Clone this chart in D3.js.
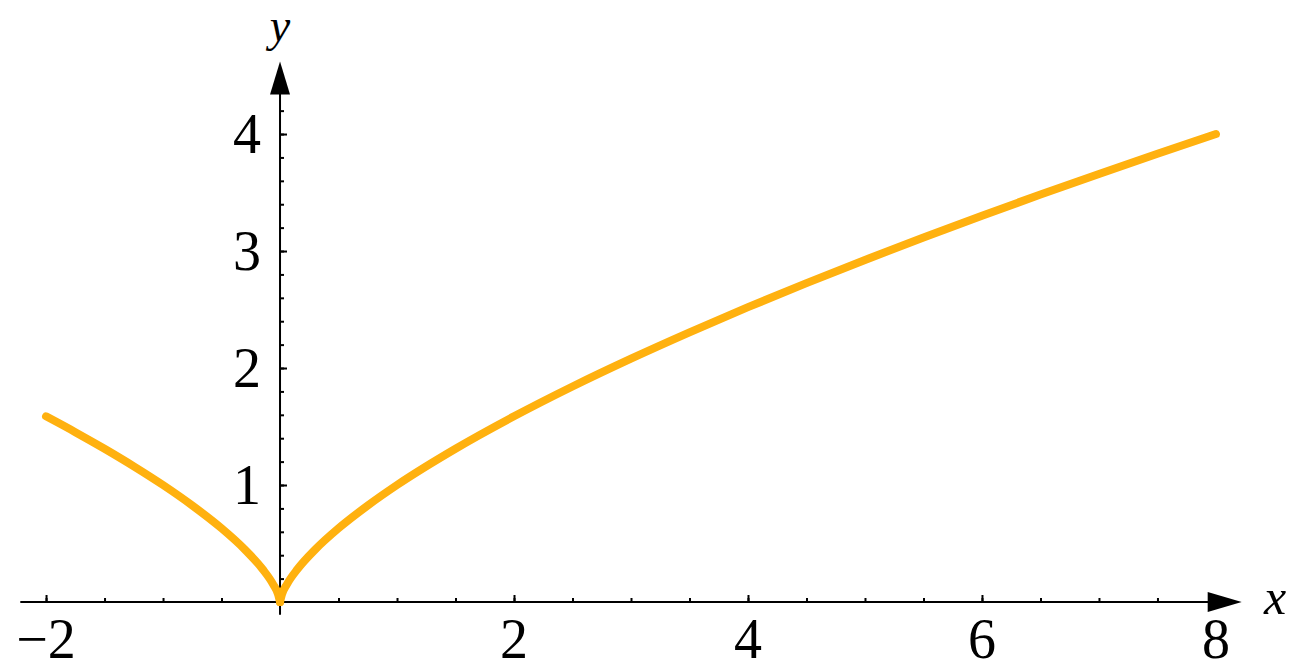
<!DOCTYPE html>
<meta charset="utf-8">
<script src="https://d3js.org/d3.v7.min.js"></script>
<style>
    body { margin: 0; background: #fff; }
    svg text { font-family: 'Liberation Serif', 'DejaVu Serif', serif; fill: #000; }
</style>
<div id="chart"></div>
<script>
    // curve values
    var xValues = [-2, -1.75, -1.5, -1.25, -1, -0.75, -0.5, -0.3, -0.15, -0.06, -0.015, 0,
                   0.015, 0.06, 0.15, 0.3, 0.5, 0.75, 1, 1.5, 2, 2.5, 3, 3.5, 4, 4.5, 5, 5.5, 6, 6.5, 7, 7.5, 8];
    var yValues = [1.587, 1.452, 1.310, 1.160, 1.000, 0.825, 0.630, 0.448, 0.282, 0.153, 0.061, 0,
                   0.061, 0.153, 0.282, 0.448, 0.630, 0.825, 1.000, 1.310, 1.587, 1.842, 2.080, 2.305, 2.520, 2.726, 2.924, 3.116, 3.302, 3.483, 3.659, 3.831, 4.000];

    // tick labels
    var xTickLabels = [-2, 2, 4, 6, 8];
    var yTickLabels = [1, 2, 3, 4];
    var xMinor = d3.range(-2, 8.01, 0.5);
    var yMinor = d3.range(0.2, 4.21, 0.2).map(function(v) { return +v.toFixed(1); });

    var width = 1299, height = 672;

    var svg = d3.select("#chart").append("svg")
        .attr("width", width)
        .attr("height", height);

    var x = d3.scaleLinear().domain([-2.22, 8.22]).range([20.3, 1241.7]);
    var y = d3.scaleLinear().domain([0, 4.62]).range([602, 61.5]);

    var axisColor = "#000";

    // x axis line + arrow
    svg.append("line")
        .attr("x1", x(-2.22)).attr("x2", x(8.22) - 20)
        .attr("y1", y(0)).attr("y2", y(0))
        .attr("stroke", axisColor).attr("stroke-width", 2);
    svg.append("path")
        .attr("d", "M" + x(8.22) + "," + y(0) + "l-34,-10l0,20z")
        .attr("fill", axisColor);

    // y axis line + arrow
    svg.append("line")
        .attr("x1", x(0)).attr("x2", x(0))
        .attr("y1", y(-0.11)).attr("y2", y(4.62) + 20)
        .attr("stroke", axisColor).attr("stroke-width", 2);
    svg.append("path")
        .attr("d", "M" + x(0) + "," + y(4.62) + "l-10,33l20,0z")
        .attr("fill", axisColor);

    // x ticks (drawn upward)
    svg.append("g")
        .attr("transform", "translate(0," + y(0) + ")")
        .call(d3.axisBottom(x).tickValues(xMinor.filter(function(v) { return v !== 0; }))
            .tickSize(-4).tickFormat(""));
    svg.append("g")
        .attr("transform", "translate(0," + y(0) + ")")
        .call(d3.axisBottom(x).tickValues(xTickLabels).tickSize(-7).tickFormat(""));

    // y ticks (drawn to the right)
    svg.append("g")
        .attr("transform", "translate(" + x(0) + ",0)")
        .call(d3.axisLeft(y).tickValues(yMinor).tickSize(-4).tickFormat(""));
    svg.append("g")
        .attr("transform", "translate(" + x(0) + ",0)")
        .call(d3.axisLeft(y).tickValues(yTickLabels).tickSize(-7).tickFormat(""));

    svg.selectAll(".domain").remove();
    svg.selectAll(".tick line").attr("stroke", axisColor).attr("stroke-width", 2);

    // tick labels
    svg.selectAll(".xlabel")
        .data(xTickLabels)
        .enter().append("text")
        .attr("class", "xlabel")
        .attr("x", function(d) { return x(d); })
        .attr("y", 658)
        .attr("text-anchor", "middle")
        .style("font-size", "56px")
        .text(function(d) { return d < 0 ? "\u2212" + Math.abs(d) : d; });

    svg.selectAll(".ylabel")
        .data(yTickLabels)
        .enter().append("text")
        .attr("class", "ylabel")
        .attr("x", 261)
        .attr("y", function(d) { return y(d); })
        .attr("dy", "0.34em")
        .attr("text-anchor", "end")
        .style("font-size", "56px")
        .text(function(d) { return d; });

    // axis names
    svg.append("text")
        .attr("x", 1275).attr("y", 614)
        .attr("text-anchor", "middle")
        .style("font-size", "50px").style("font-style", "italic")
        .text("x");
    svg.append("text")
        .attr("x", 280).attr("y", 41)
        .attr("text-anchor", "middle")
        .style("font-size", "46px").style("font-style", "italic")
        .text("y");

    // curve, split at the cusp
    var pts = xValues.map(function(v, i) { return [v, yValues[i]]; });
    var left = pts.filter(function(p) { return p[0] <= 0; });
    var right = pts.filter(function(p) { return p[0] >= 0; });

    var line = d3.line()
        .x(function(d) { return x(d[0]); })
        .y(function(d) { return y(d[1]); })
        .curve(d3.curveMonotoneX);

    svg.selectAll(".branch")
        .data([left, right])
        .enter().append("path")
        .attr("class", "branch")
        .attr("d", line)
        .attr("fill", "none")
        .attr("stroke", "#ffb10f")
        .attr("stroke-width", 8)
        .attr("stroke-linecap", "round")
        .attr("stroke-linejoin", "round");
</script>
